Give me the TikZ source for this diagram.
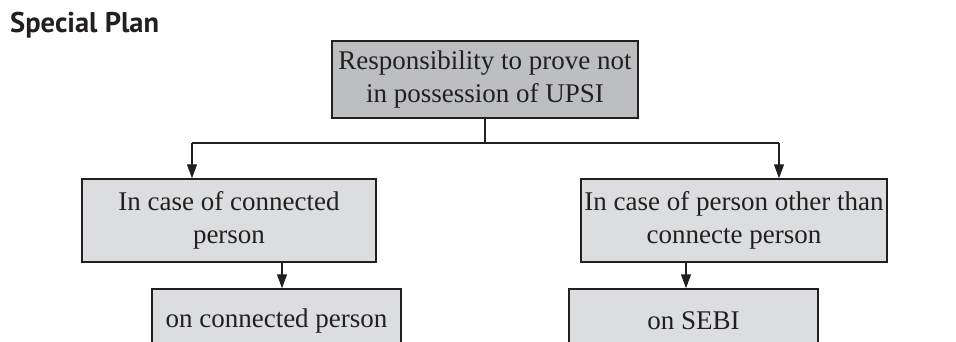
\documentclass[tikz,border=0pt]{standalone}
\usepackage{fontspec}
\setmainfont{Liberation Serif}
\newfontfamily\headfont{PT Sans}
\usepackage{tikz}
\usepackage{xcolor}
\usetikzlibrary{arrows.meta,positioning,calc}
\definecolor{Ink}{HTML}{231F20}
\definecolor{DarkFill}{HTML}{BCBEC0}
\definecolor{LightFill}{HTML}{DCDDDE}

\begin{document}
\begin{tikzpicture}[x=1pt,y=-1pt,
    box/.style={draw=Ink,line width=1.5pt,fill=LightFill,align=center,inner sep=0pt,
      font=\fontsize{27}{33}\selectfont,text=Ink},
    arr/.style={draw=Ink,line width=1.3pt,-{Triangle[length=14pt,width=10pt]}}]
  \clip (0,0) rectangle (956,341);
  \useasboundingbox (0,0) rectangle (956,341);
  \node[anchor=base west,inner sep=0pt,font=\headfont\bfseries\fontsize{28.5}{32}\selectfont,text=Ink] (title) at (10,32) {Special Plan};
  % boxes
  \node[box,fill=DarkFill,minimum width=306pt,minimum height=77pt] (top) at (485,79.5)
    {Responsibility to prove not\\in possession of UPSI};
  \node[box,minimum width=294pt,minimum height=83pt] (left) at (229,220.5)
    {In case of connected\\person};
  \node[box,minimum width=306pt,minimum height=83pt] (right) at (734,220.5)
    {In case of person other than\\connecte person};
  \node[box,minimum width=249pt,minimum height=64pt] (botl) at (276.5,321)
    {on connected person};
  \node[box,minimum width=249pt,minimum height=64pt] (botr) at (693.5,321)
    {on SEBI};
  % connectors
  \coordinate (jl) at (192,143);
  \coordinate (jr) at (779,143);
  \draw[Ink,line width=1.3pt] (top.south) -- (top.south |- jl);
  \draw[Ink,line width=1.3pt] (jl) -- (jr);
  \draw[arr] (jl) -- (jl |- left.north);
  \draw[arr] (jr) -- (jr |- right.north);
  \draw[arr] ([xshift=53pt]left.south) -- ([xshift=53pt]left.south |- botl.north);
  \draw[arr] ([xshift=-48pt]right.south) -- ([xshift=-48pt]right.south |- botr.north);
\end{tikzpicture}
\end{document}
